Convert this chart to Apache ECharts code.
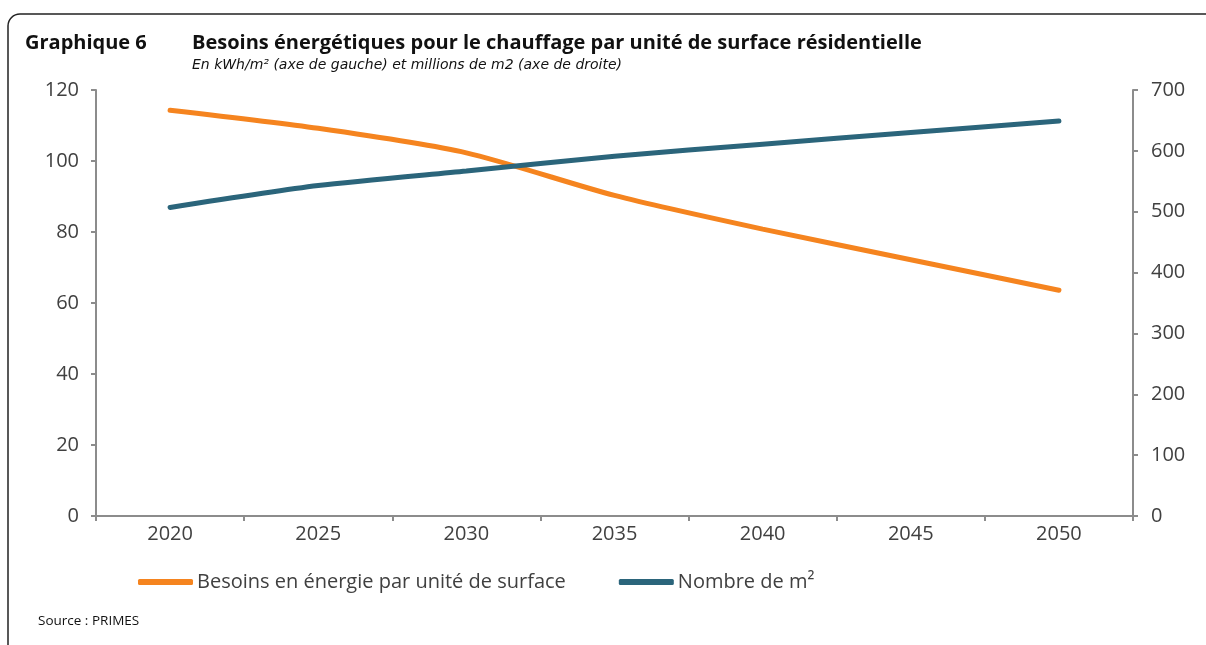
<!DOCTYPE html>
<html>
<head>
<meta charset="utf-8">
<script src="https://cdn.jsdelivr.net/npm/echarts@6/dist/echarts.min.js"></script>
<style>
  html, body { margin: 0; padding: 0; background: #fff; }
  #chart { width: 1206px; height: 645px; }
</style>
</head>
<body>
<div id="chart"></div>
<script>
// data
const years = ['2020', '2025', '2030', '2035', '2040', '2045', '2050'];
const besoins = [114.3, 109.2, 102.3, 90.3, 80.8, 72.2, 63.6];
const surfaces = [507, 543, 567, 591, 611, 630, 649];

const fontFamily = '"Open Sans", "DejaVu Sans", sans-serif';
const textColor = '#404040';
const axisColor = '#8c8c8c';

const chart = echarts.init(document.getElementById('chart'));

chart.setOption({
  animation: false,
  textStyle: { fontFamily: fontFamily },
  graphic: [
    {
      type: 'rect',
      shape: { x: 8, y: 14, width: 1230, height: 660, r: 12 },
      style: { fill: 'none', stroke: '#222', lineWidth: 1.5 },
      silent: true
    },
    {
      type: 'text', left: 25, top: 33,
      style: { text: 'Graphique 6', font: 'bold 20px ' + fontFamily, fill: '#111' }
    },
    {
      type: 'text', left: 192, top: 33,
      style: { text: 'Besoins énergétiques pour le chauffage par unité de surface résidentielle', font: 'bold 20px ' + fontFamily, fill: '#111' }
    },
    {
      type: 'text', left: 192, top: 58,
      style: { text: 'En kWh/m² (axe de gauche) et millions de m2 (axe de droite)', font: 'italic 14px "DejaVu Sans", sans-serif', fill: '#111' }
    },
    {
      type: 'text', left: 38, top: 614,
      style: { text: 'Source : PRIMES', font: '13.5px ' + fontFamily, fill: '#111' }
    }
  ],
  legend: {
    bottom: 53,
    left: 138,
    padding: 0,
    itemWidth: 55,
    itemHeight: 6,
    itemGap: 53,
    icon: 'roundRect',
    textStyle: { fontSize: 20, color: textColor, padding: [0, 0, 0, -1] },
    data: ['Besoins en énergie par unité de surface', 'Nombre de m²']
  },
  grid: { left: 96, right: 73, top: 90, bottom: 129 },
  xAxis: {
    type: 'category',
    data: years,
    boundaryGap: true,
    axisLine: { lineStyle: { color: axisColor, width: 2 } },
    axisTick: { show: true, length: 5, lineStyle: { color: axisColor, width: 2 } },
    axisLabel: { fontSize: 20, color: textColor, margin: 8 }
  },
  yAxis: [
    {
      type: 'value',
      min: 0, max: 120, interval: 20,
      axisLine: { show: true, lineStyle: { color: axisColor, width: 2 } },
      axisTick: { show: true, length: 5, lineStyle: { color: axisColor, width: 2 } },
      axisLabel: { fontSize: 20, color: textColor, margin: 17 },
      splitLine: { show: false }
    },
    {
      type: 'value',
      min: 0, max: 700, interval: 100,
      axisLine: { show: true, lineStyle: { color: axisColor, width: 2 } },
      axisTick: { show: true, length: 5, lineStyle: { color: axisColor, width: 2 } },
      axisLabel: { fontSize: 20, color: textColor, margin: 18 },
      splitLine: { show: false }
    }
  ],
  series: [
    {
      name: 'Besoins en énergie par unité de surface',
      type: 'line',
      data: besoins,
      yAxisIndex: 0,
      smooth: 0.25,
      showSymbol: false,
      symbol: 'none',
      lineStyle: { color: '#f5841f', width: 5, cap: 'round' },
      itemStyle: { color: '#f5841f' }
    },
    {
      name: 'Nombre de m²',
      type: 'line',
      data: surfaces,
      yAxisIndex: 1,
      smooth: 0.25,
      showSymbol: false,
      symbol: 'none',
      lineStyle: { color: '#2b657b', width: 5, cap: 'round' },
      itemStyle: { color: '#2b657b' }
    }
  ]
});
</script>
</body>
</html>
